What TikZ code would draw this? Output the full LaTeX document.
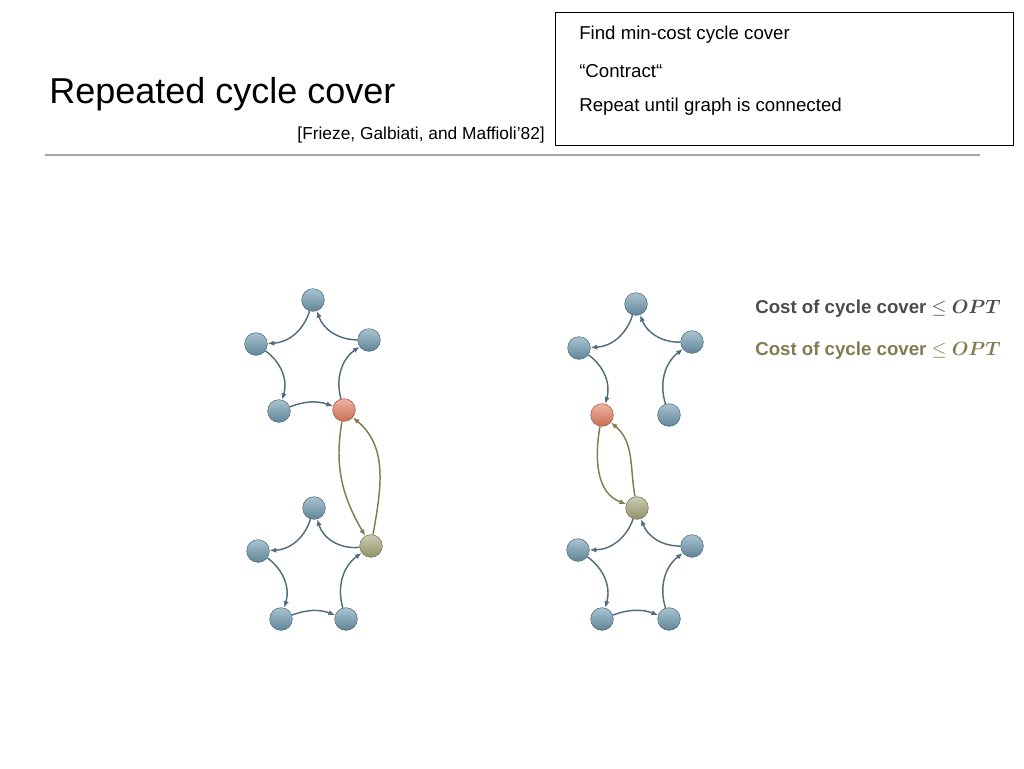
\documentclass[tikz,border=0pt]{standalone}
\usepackage{fontspec}
\setmainfont{Liberation Sans}
\usetikzlibrary{arrows.meta}
\definecolor{nb}{RGB}{112,156,178}
\definecolor{eb}{RGB}{80,110,125}
\definecolor{or}{RGB}{232,130,100}
\definecolor{ol}{RGB}{170,170,125}
\definecolor{eo}{RGB}{130,125,80}
\begin{document}
\begin{tikzpicture}[x=0.75pt,y=-0.75pt,
  v/.style={circle,minimum size=17pt,inner sep=0pt,draw=#1!70!black,line width=0.4pt,shading=axis,top color=#1!60!white,bottom color=#1!85!black},
  v/.default=nb,
  e/.style={-{Latex[length=5pt,width=4pt]},draw=eb,line width=1.1pt},
  eo/.style={-{Latex[length=5pt,width=4pt]},draw=eo,line width=1.1pt},
  t/.style={inner sep=0pt,anchor=west}]
\useasboundingbox (0,0) rectangle (1024,768);
\node[t,font=\fontsize{27}{30}\selectfont] (title) at (49,94) {Repeated cycle cover};
\node[t,font=\fontsize{13}{15}\selectfont,anchor=east] (ref) at (545,135) {[Frieze, Galbiati, and Maffioli’82]};
\draw[gray!70,line width=1pt] (45,155) -- (980,155);
\node[draw=black,line width=0.6pt,minimum width=343.5pt,minimum height=99.75pt,anchor=north west] (box) at (555,12) {};
\node[t,font=\fontsize{14}{16}\selectfont] (b1) at (579,35) {Find min-cost cycle cover};
\node[t,font=\fontsize{14}{16}\selectfont] (b2) at (579,71) {“Contract“};
\node[t,font=\fontsize{14}{16}\selectfont] (b3) at (579,107) {Repeat until graph is connected};
\node[t,font=\bfseries\fontsize{14}{16}\selectfont,text=black!70] (c1) at (755,309) {Cost of cycle cover $\leq$ {\boldmath$OPT$}};
\node[t,font=\bfseries\fontsize{14}{16}\selectfont,text=eo] (c2) at (755,351) {Cost of cycle cover $\leq$ {\boldmath$OPT$}};
% left graph
\node[v] (a1) at (313,300) {};
\node[v] (a2) at (256,344) {};
\node[v] (a3) at (369,340) {};
\node[v] (a4) at (279,411) {};
\node[v=or] (a5) at (344,410) {};
\node[v] (b1n) at (314,508) {};
\node[v] (b2n) at (258,551) {};
\node[v=ol] (b3n) at (371,546) {};
\node[v] (b4n) at (281,619) {};
\node[v] (b5n) at (346,619) {};
\draw[e] (a3) to[bend left=35] (a1);
\draw[e] (a1) to[bend left=35] (a2);
\draw[e] (a2) to[bend left=35] (a4);
\draw[e] (a4) to[bend left=20] (a5);
\draw[e] (a5) to[bend left=35] (a3);
\draw[e] (b3n) to[bend left=40] (b1n);
\draw[e] (b1n) to[bend left=35] (b2n);
\draw[e] (b2n) to[bend left=35] (b4n);
\draw[e] (b4n) to[bend left=20] (b5n);
\draw[e] (b5n) to[bend left=35] (b3n);
\draw[eo] (a5) to[out=-100,in=120] (b3n);
\draw[eo] (b3n) to[out=80,in=-40] (a5);
% right graph
\node[v] (c1n) at (636,304) {};
\node[v] (c2n) at (579,348) {};
\node[v] (c3n) at (692,342) {};
\node[v=or] (c4n) at (602,415) {};
\node[v] (c5n) at (669,415) {};
\node[v=ol] (d1) at (637,508) {};
\node[v] (d2) at (578,550) {};
\node[v] (d3) at (692,546) {};
\node[v] (d4) at (602,619) {};
\node[v] (d5) at (669,619) {};
\draw[e] (c3n) to[bend left=35] (c1n);
\draw[e] (c1n) to[bend left=35] (c2n);
\draw[e] (c2n) to[bend left=35] (c4n);
\draw[e] (c5n) to[bend left=35] (c3n);
\draw[e] (d3) to[bend left=35] (d1);
\draw[e] (d1) to[bend left=35] (d2);
\draw[e] (d2) to[bend left=35] (d4);
\draw[e] (d4) to[bend left=20] (d5);
\draw[e] (d5) to[bend left=35] (d3);
\draw[eo] (c4n) to[out=-100,in=160] (d1);
\draw[eo] (d1) to[out=100,in=-40] (c4n);
\end{tikzpicture}
\end{document}
